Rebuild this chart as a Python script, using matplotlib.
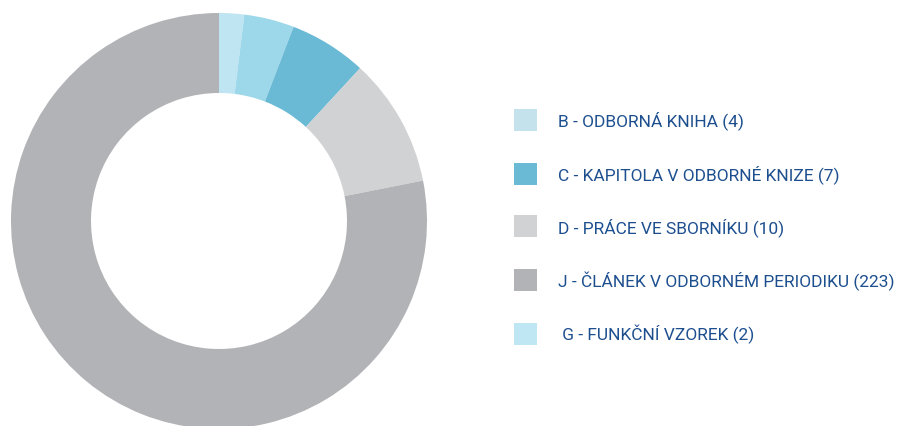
import matplotlib.pyplot as plt
from matplotlib.patches import Rectangle

# wedge sizes as drawn (clockwise from 12 o'clock)
wedge_names = ['G', 'B', 'C', 'D', 'J']
wedge_sizes = [2.0, 4.0, 6.2, 10.3, 80.3]
wedge_colors = ['#bfe5f2', '#9dd8ea', '#6abad6', '#d1d2d4', '#b2b3b6']

# legend entries
legend_labels = ['B - ODBORNÁ KNIHA (4)',
                 'C - KAPITOLA V ODBORNÉ KNIZE (7)',
                 'D - PRÁCE VE SBORNÍKU (10)',
                 'J - ČLÁNEK V ODBORNÉM PERIODIKU (223)',
                 ' G - FUNKČNÍ VZOREK (2)']
legend_colors = ['#c4e2ec', '#6abad6', '#d1d2d4', '#b2b3b6', '#bfe6f3']

W, H = 899, 427
fig = plt.figure(figsize=(W / 100, H / 100), dpi=100)

# donut
cx, cy, r = 219, H - 222, 208
ax = fig.add_axes([(cx - r) / W, (cy - r) / H, 2 * r / W, 2 * r / H])
ax.pie(wedge_sizes, colors=wedge_colors, startangle=90, counterclock=False,
       radius=1, wedgeprops=dict(width=80 / 208, linewidth=0))
ax.set_xlim(-1, 1)
ax.set_ylim(-1, 1)
ax.set_aspect('equal')
ax.axis('off')

# legend
row_y = [120.5, 174.7, 227.3, 281.3, 334.7]
for lab, col, y in zip(legend_labels, legend_colors, row_y):
    fig.patches.append(Rectangle(((514) / W, (H - y - 11) / H), 23 / W, 22 / H,
                                 transform=fig.transFigure, color=col, linewidth=0))
    fig.text(558 / W, (H - y) / H, lab, fontsize=12.5, color='#1d4f8f',
             family='Roboto', va='center', ha='left')

fig.savefig('out.png', dpi=100)
